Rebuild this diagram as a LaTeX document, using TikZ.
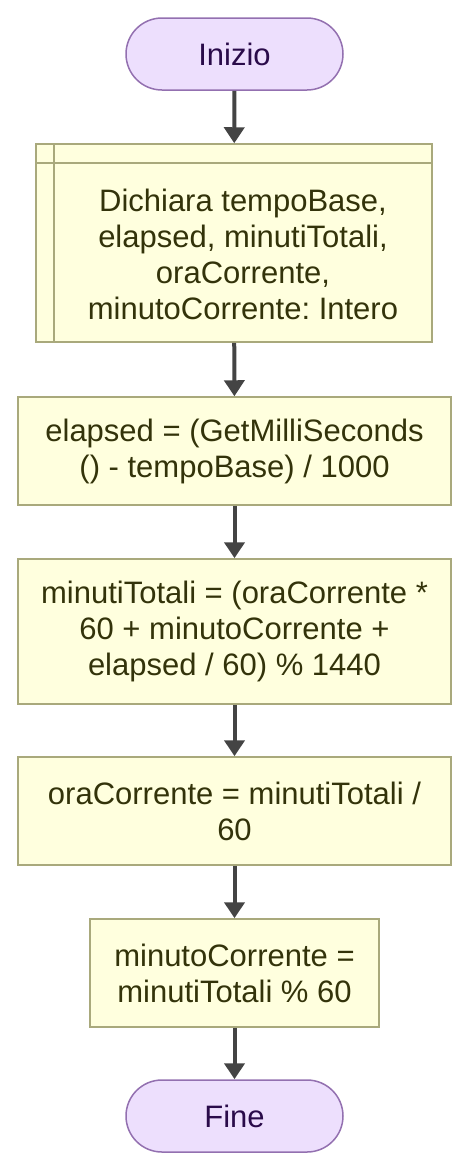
\documentclass[tikz,border=0pt]{standalone}
\usepackage{fontspec}
\setmainfont{Liberation Sans}
\frenchspacing
\usetikzlibrary{arrows.meta,shapes.misc}
\definecolor{termfill}{HTML}{EDDFFD}
\definecolor{termdraw}{HTML}{9370B0}
\definecolor{termtext}{HTML}{2A0B4A}
\definecolor{procfill}{HTML}{FFFFDE}
\definecolor{procdraw}{HTML}{A9A97C}
\definecolor{proctext}{HTML}{33330A}
\definecolor{arrowc}{HTML}{444444}
\tikzset{
  txt/.style={font=\fontsize{31}{36}\selectfont\frenchspacing},
  terminal/.style={rounded rectangle, draw=termdraw, fill=termfill, line width=1.5pt,
    minimum width=217pt, minimum height=72pt, inner sep=0pt, text=termtext, txt},
  procbox/.style={rectangle, draw=procdraw, fill=procfill, line width=1.5pt,
    inner sep=0pt, text=proctext, align=center, txt},
  flow/.style={draw=arrowc, line width=4pt, -{Triangle[width=20pt,length=16pt]}},
}
\begin{document}
\begin{tikzpicture}[x=1pt,y=-1pt]
\useasboundingbox (0,0) rectangle (469,1171);
\node[terminal] (start) at (234.5,54) {Inizio};
\node[procbox, minimum width=396pt, minimum height=198pt] (decl) at (234,243) {};
\draw[procdraw, line width=1.5pt] (54,144) -- (54,342);
\draw[procdraw, line width=1.5pt] (36,163) -- (432,163);
\node[text=proctext, align=center, txt] (decltext) at (243,254)
  {Dichiara tempoBase,\\ elapsed, minutiTotali,\\ oraCorrente,\\ minutoCorrente: Intero};
\node[procbox, minimum width=433pt, minimum height=108pt] (b2) at (234.5,451)
  {elapsed = (GetMilliSeconds\\ () - tempoBase) / 1000};
\node[procbox, minimum width=433pt, minimum height=145pt] (b3) at (234.5,631.5)
  {minutiTotali = (oraCorrente *\\ 60 + minutoCorrente +\\ elapsed / 60) \% 1440};
\node[procbox, minimum width=433pt, minimum height=108pt] (b4) at (234.5,811)
  {oraCorrente = minutiTotali /\\ 60};
\node[procbox, minimum width=289pt, minimum height=108pt] (b5) at (234.5,973)
  {minutoCorrente =\\ minutiTotali \% 60};
\node[terminal] (stop) at (234.5,1116) {Fine};
\draw[flow] (start) -- (decl);
\draw[flow] (decl) -- (b2);
\draw[flow] (b2) -- (b3);
\draw[flow] (b3) -- (b4);
\draw[flow] (b4) -- (b5);
\draw[flow] (b5) -- (stop);
\end{tikzpicture}
\end{document}
